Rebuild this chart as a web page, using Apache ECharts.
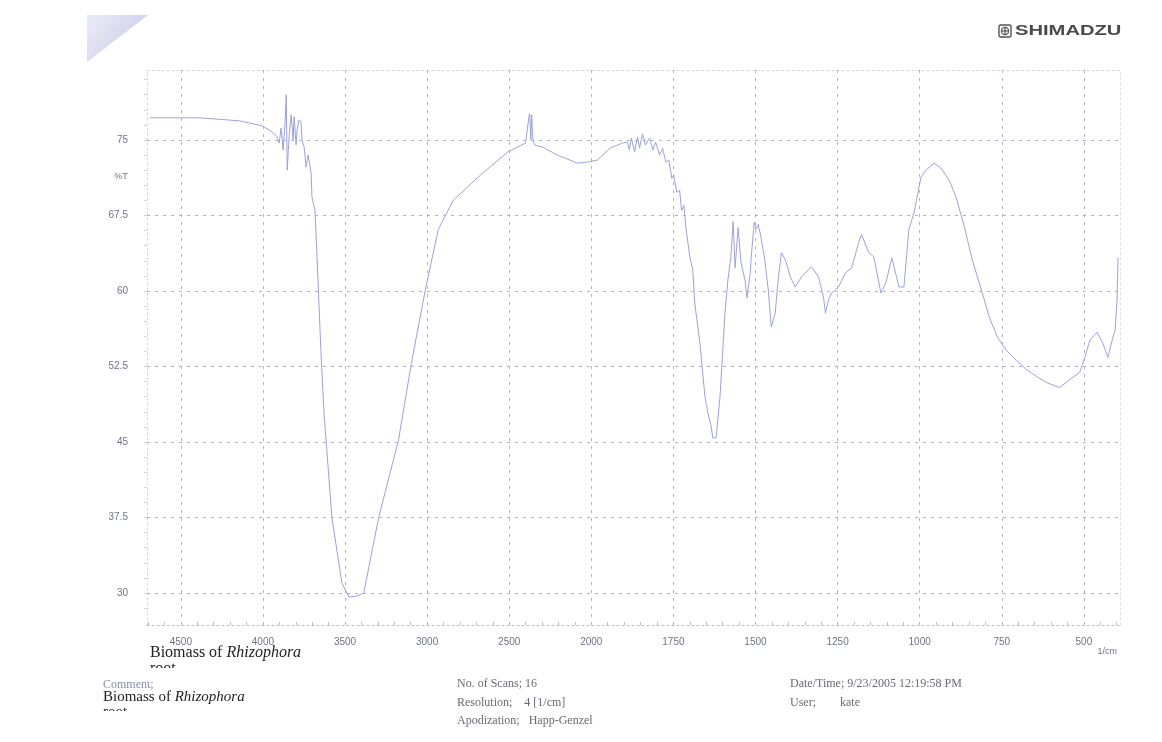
<!DOCTYPE html>
<html>
<head>
<meta charset="utf-8">
<script src="https://cdn.jsdelivr.net/npm/echarts@6/dist/echarts.min.js"></script>
<style>
  html, body { margin: 0; padding: 0; background: #fff; }
  #chart { width: 1162px; height: 742px; }
</style>
</head>
<body>
<div id="chart"></div>
<script>
// FTIR spectrum of Rhizophora root biomass: wavenumber (1/cm) vs transmittance (%T)
const wavenumbers = [
  4690, 4385, 4143, 4004, 3943, 3913, 3901, 3889, 3877, 3864,
  3858, 3852, 3840, 3828, 3816, 3810, 3798, 3792, 3780, 3768,
  3762, 3749, 3737, 3725, 3707, 3701, 3683, 3671, 3647, 3628,
  3580, 3519, 3477, 3429, 3386, 3295, 3174, 3096, 3011, 2932,
  2841, 2690, 2509, 2400, 2381, 2375, 2369, 2363, 2357, 2345,
  2297, 2206, 2085, 2024, 1982, 1942, 1905, 1890, 1884, 1878,
  1868, 1859, 1853, 1844, 1835, 1822, 1813, 1804, 1792, 1783,
  1773, 1764, 1755, 1749, 1740, 1731, 1725, 1718, 1712, 1700,
  1691, 1685, 1669, 1654, 1645, 1636, 1630, 1620, 1608, 1593,
  1584, 1575, 1568, 1562, 1553, 1544, 1532, 1526, 1516, 1513,
  1504, 1498, 1492, 1486, 1473, 1461, 1452, 1440, 1431, 1421,
  1409, 1394, 1379, 1360, 1339, 1330, 1308, 1293, 1287, 1278,
  1268, 1247, 1226, 1207, 1186, 1177, 1155, 1140, 1118, 1103,
  1085, 1063, 1048, 1033, 1017, 996, 981, 956, 935, 910,
  889, 864, 840, 812, 788, 763, 736, 705, 675, 644,
  613, 574, 543, 513, 497, 482, 460, 442, 427, 414,
  405, 399, 396
];
const transmittance = [
  77.2, 77.2, 76.9, 76.4, 75.8, 75.3, 74.7, 76.2, 74.0, 77.0,
  79.5, 72.0, 75.5, 77.5, 75.0, 77.3, 74.5, 76.0, 77.0, 76.8,
  75.0, 74.3, 72.3, 73.5, 71.8, 69.3, 68.0, 63.6, 54.1, 47.9,
  37.5, 31.0, 29.6, 29.7, 30.0, 37.5, 45.2, 52.8, 60.1, 66.1,
  69.0, 71.3, 73.8, 74.7, 77.2, 77.6, 75.0, 77.5, 75.2, 74.5,
  74.3, 73.5, 72.7, 72.8, 73.0, 74.2, 74.7, 74.8, 74.0, 75.2,
  73.8, 75.3, 74.2, 75.6, 74.5, 75.2, 74.0, 74.8, 73.5, 74.2,
  72.8, 73.0, 71.2, 71.5, 69.8, 70.0, 68.0, 68.5, 66.3, 63.4,
  62.1, 58.8, 54.8, 49.5, 47.9, 46.7, 45.4, 45.4, 49.5, 57.8,
  61.1, 63.4, 66.9, 62.3, 66.3, 62.8, 61.1, 59.3, 61.8, 63.4,
  66.8, 66.1, 66.6, 65.8, 63.4, 60.1, 56.4, 57.8, 61.1, 63.8,
  63.1, 61.4, 60.4, 61.4, 62.1, 62.4, 61.4, 59.4, 57.8, 59.1,
  59.8, 60.4, 61.8, 62.3, 64.8, 65.6, 63.8, 63.4, 59.8, 60.8,
  63.3, 60.4, 60.4, 66.1, 67.8, 71.3, 72.0, 72.7, 72.2, 71.0,
  69.3, 66.4, 63.1, 60.1, 57.4, 55.4, 54.1, 53.1, 52.2, 51.5,
  50.9, 50.4, 51.2, 51.9, 53.4, 55.1, 55.9, 54.8, 53.4, 55.1,
  56.1, 59.1, 63.3
];

// Axis ticks
const xTicks = [4500, 4000, 3500, 3000, 2500, 2000, 1750, 1500, 1250, 1000, 750, 500];
const yTicks = [30, 37.5, 45, 52.5, 60, 67.5, 75];
const xRange = [4706, 390];
const yRange = [26.82, 81.95];

// Instrument scale: 500 1/cm per division above 2000, 250 1/cm per division below
function toAxis(w) {
  return w >= 2000 ? (4500 - w) / 500 : 5 + (2000 - w) / 250;
}
function fromAxis(u) {
  return u <= 5 ? 4500 - 500 * u : 2000 - 250 * (u - 5);
}

const xMinor = [];
for (let w = 4700; w >= 2000; w -= 100) xMinor.push(toAxis(w));
for (let w = 1950; w >= 400; w -= 50) xMinor.push(toAxis(w));
const yMinor = [];
for (let v = 28.5; v <= 81; v += 1.5) yMinor.push(+v.toFixed(1));

const spectrum = wavenumbers.map((w, i) => [toAxis(w), transmittance[i]]);

const gridColor = '#aeb2cc';
const labelColor = '#707384';
const serif = "'Liberation Serif', 'Times New Roman', serif";
const sans = "'Liberation Sans', Arial, sans-serif";

const chart = echarts.init(document.getElementById('chart'), null, { renderer: 'canvas' });

const gridLines = [
  ...yTicks.map(v => ({ yAxis: v })),
  ...xTicks.map(w => ({ xAxis: toAxis(w) }))
];

chart.setOption({
  animation: false,
  backgroundColor: '#ffffff',
  grid: { left: 147, right: 42, top: 70, bottom: 117, containLabel: false },
  xAxis: [{
    type: 'value',
    min: toAxis(xRange[0]),
    max: toAxis(xRange[1]),
    axisLine: { show: true, onZero: false, lineStyle: { color: '#b9bccb', type: [2, 3], width: 1 } },
    axisTick: { show: true, inside: true, length: 3, customValues: xMinor, lineStyle: { color: '#b9bccb' } },
    axisLabel: {
      customValues: xTicks.map(toAxis),
      formatter: v => String(Math.round(fromAxis(v))),
      color: labelColor, fontFamily: sans, fontSize: 10, margin: 12
    },
    splitLine: { show: false }
  }, {
    type: 'value', position: 'top',
    min: toAxis(xRange[0]), max: toAxis(xRange[1]),
    axisLine: { show: true, onZero: false, lineStyle: { color: '#d2d4df', type: [2, 3] } },
    axisTick: { show: false }, axisLabel: { show: false }, splitLine: { show: false }
  }],
  yAxis: [{
    type: 'value',
    min: yRange[0], max: yRange[1],
    axisLine: { show: true, onZero: false, lineStyle: { color: '#d2d4df', type: [2, 3] } },
    axisTick: { show: true, length: 3, customValues: yMinor, lineStyle: { color: '#d0d2dc' } },
    axisLabel: {
      customValues: yTicks,
      formatter: v => String(v),
      color: labelColor, fontFamily: sans, fontSize: 10, margin: 19
    },
    splitLine: { show: false }
  }, {
    type: 'value', position: 'right',
    min: yRange[0], max: yRange[1],
    axisLine: { show: true, onZero: false, lineStyle: { color: '#dcdde6', type: [2, 3] } },
    axisTick: { show: false }, axisLabel: { show: false }, splitLine: { show: false }
  }],
  series: [{
    type: 'line',
    data: spectrum,
    showSymbol: false,
    symbol: 'none',
    smooth: false,
    lineStyle: { color: '#9ca3dc', width: 1 },
    z: 3,
    markLine: {
      silent: true,
      symbol: ['none', 'none'],
      label: { show: false },
      lineStyle: { color: gridColor, type: [3, 5], width: 1 },
      data: gridLines,
      z: 1
    }
  }],
  graphic: [
    // page curl in the corner of the scanned sheet
    {
      type: 'polygon', silent: true,
      shape: { points: [[87, 15], [148, 15], [87, 62]] },
      style: {
        fill: new echarts.graphic.LinearGradient(0, 0, 1, 1, [
          { offset: 0, color: '#ececf7' },
          { offset: 1, color: '#c6c6e6' }
        ])
      }
    },
    // maker logo
    {
      type: 'group', x: 999, y: 25, silent: true,
      children: [
        { type: 'rect', shape: { x: 0, y: 0, width: 12, height: 12, r: 1.5 }, style: { fill: 'none', stroke: '#555', lineWidth: 1.4 } },
        { type: 'circle', shape: { cx: 6, cy: 6, r: 3.6 }, style: { fill: 'none', stroke: '#555', lineWidth: 1.2 } },
        { type: 'line', shape: { x1: 6, y1: 2, x2: 6, y2: 10 }, style: { stroke: '#555', lineWidth: 1.2 } },
        { type: 'line', shape: { x1: 2, y1: 6, x2: 10, y2: 6 }, style: { stroke: '#555', lineWidth: 1.2 } }
      ]
    },
    {
      type: 'text', x: 1015, y: 31, scaleX: 1.44, silent: true,
      style: { text: 'SHIMADZU', x: 0, y: 0, fill: '#4a4a4a', font: 'bold 14px ' + sans, textVerticalAlign: 'middle' }
    },
    // axis captions
    {
      type: 'text', x: 121, y: 177, silent: true,
      style: { text: '%T', fill: labelColor, font: '9px ' + sans, textAlign: 'center', textVerticalAlign: 'middle' }
    },
    {
      type: 'text', x: 1117, y: 652, silent: true,
      style: { text: '1/cm', fill: labelColor, font: '9px ' + sans, textAlign: 'right', textVerticalAlign: 'middle' }
    },
    // sample title under the axis
    {
      type: 'text', x: 150, y: 653, silent: true,
      style: {
        text: '{n|Biomass of }{i|Rhizophora}', textVerticalAlign: 'middle',
        rich: {
          n: { fontFamily: serif, fontSize: 16, fill: '#222' },
          i: { fontFamily: serif, fontSize: 16, fontStyle: 'italic', fill: '#222' }
        }
      }
    },
    {
      type: 'text', x: 150, y: 669, silent: true,
      style: { text: 'root', fill: '#222', font: '16px ' + serif, textVerticalAlign: 'middle' }
    },
    { type: 'rect', silent: true, shape: { x: 145, y: 668, width: 60, height: 14 }, style: { fill: '#fff' }, z: 10 },
    // comment block
    {
      type: 'text', x: 103, y: 685, silent: true,
      style: { text: 'Comment;', fill: '#8a8ca6', font: '12px ' + serif, textVerticalAlign: 'middle' }
    },
    {
      type: 'text', x: 103, y: 697, silent: true,
      style: {
        text: '{n|Biomass of }{i|Rhizophora}', textVerticalAlign: 'middle',
        rich: {
          n: { fontFamily: serif, fontSize: 15, fill: '#222' },
          i: { fontFamily: serif, fontSize: 15, fontStyle: 'italic', fill: '#222' }
        }
      }
    },
    {
      type: 'text', x: 103, y: 712, silent: true,
      style: { text: 'root', fill: '#222', font: '15px ' + serif, textVerticalAlign: 'middle' }
    },
    { type: 'rect', silent: true, shape: { x: 98, y: 711, width: 60, height: 14 }, style: { fill: '#fff' }, z: 10 },
    // measurement parameters
    {
      type: 'text', x: 457, y: 684, silent: true,
      style: { text: 'No. of Scans; 16', fill: '#6a6a72', font: '12px ' + serif, textVerticalAlign: 'middle' }
    },
    {
      type: 'text', x: 457, y: 703, silent: true,
      style: { text: 'Resolution;    4 [1/cm]', fill: '#6a6a72', font: '12px ' + serif, textVerticalAlign: 'middle' }
    },
    {
      type: 'text', x: 457, y: 721, silent: true,
      style: { text: 'Apodization;   Happ-Genzel', fill: '#6a6a72', font: '12px ' + serif, textVerticalAlign: 'middle' }
    },
    {
      type: 'text', x: 790, y: 684, silent: true,
      style: { text: 'Date/Time; 9/23/2005 12:19:58 PM', fill: '#6a6a72', font: '12px ' + serif, textVerticalAlign: 'middle' }
    },
    {
      type: 'text', x: 790, y: 703, silent: true,
      style: { text: 'User;        kate', fill: '#6a6a72', font: '12px ' + serif, textVerticalAlign: 'middle' }
    }
  ]
});
</script>
</body>
</html>
